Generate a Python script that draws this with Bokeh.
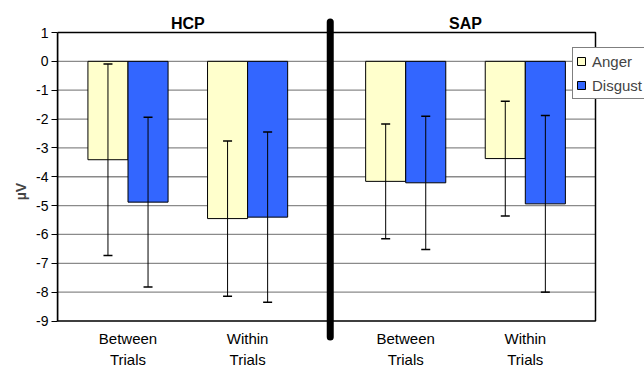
import numpy as np
from bokeh.plotting import figure
from bokeh.models import (ColumnDataSource, FixedTicker, Whisker, TeeHead, Legend, LegendItem, Range1d)
from bokeh.core.properties import value
from bokeh.embed import file_html
from bokeh.resources import INLINE

# ---- data ----
groups = ["HCP", "SAP"]
conditions = ["Between\nTrials", "Within\nTrials", "Between\nTrials", "Within\nTrials"]
cond_group = [0, 0, 1, 1]
anger_mean = [-3.41, -5.45, -4.16, -3.37]
anger_err = [3.32, 2.69, 1.99, 1.99]
disgust_mean = [-4.88, -5.40, -4.21, -4.94]
disgust_err = [2.94, 2.95, 2.31, 3.06]
y_ticks = list(range(-9, 2))
y_tick_labels = ["-9", "-8", "-7", "-6", "-5", "-4", "-3", "-2", "-1", "0", "1"]
series = ["Anger", "Disgust"]

# ---- layout / style parameters (pixels) ----
W, H = 644, 368
FRAME_L, FRAME_T = 57, 14          # frame spans to canvas right/bottom
BOX_R, BOX_T, BOX_B = 595, 32, 320.5
FIRST_PAIR_PX = 127.5
PX_X = 119.6
group_gap = 0.322
bar_w = 0.335
FONT = "Liberation Sans"

PX_Y = (BOX_B - BOX_T) / (y_ticks[-1] - y_ticks[0])

idx = np.arange(len(conditions))
xpos = idx + np.array(cond_group) * group_gap

x_start = xpos[0] - (FIRST_PAIR_PX - FRAME_L) / PX_X
x_end = x_start + (W - FRAME_L) / PX_X
x_box_r = x_start + (BOX_R - FRAME_L) / PX_X
y_end = y_ticks[-1] + (BOX_T - FRAME_T) / PX_Y
y_start = y_ticks[0] - (H - BOX_B) / PX_Y

p = figure(width=W, height=H, output_backend="svg", toolbar_location=None,
           x_range=Range1d(x_start, x_end), y_range=Range1d(y_start, y_end),
           x_axis_location=None,
           min_border_left=FRAME_L, min_border_right=0, min_border_top=FRAME_T, min_border_bottom=0)
p.background_fill_color = "white"
p.border_fill_color = "white"
p.outline_line_color = None
p.grid.visible = False

# gridlines inside the box
inner = [t for t in y_ticks if y_ticks[0] < t < y_ticks[-1]]
p.segment(x0=[x_start] * len(inner), x1=[x_box_r] * len(inner), y0=inner, y1=inner,
          line_color="#8a8a8a", line_width=1.3)

src_a = ColumnDataSource(dict(x=xpos - bar_w / 2, top=anger_mean,
                              upper=np.array(anger_mean) + np.array(anger_err),
                              lower=np.array(anger_mean) - np.array(anger_err)))
src_d = ColumnDataSource(dict(x=xpos + bar_w / 2, top=disgust_mean,
                              upper=np.array(disgust_mean) + np.array(disgust_err),
                              lower=np.array(disgust_mean) - np.array(disgust_err)))

ra = p.vbar(x="x", top="top", bottom=0, width=bar_w, source=src_a,
            fill_color="#FFFFCC", line_color="black", line_width=1)
rd = p.vbar(x="x", top="top", bottom=0, width=bar_w, source=src_d,
            fill_color="#3366FF", line_color="black", line_width=1)

for s in (src_a, src_d):
    p.add_layout(Whisker(base="x", upper="upper", lower="lower", source=s, level="overlay",
                         line_color="black", line_width=1,
                         upper_head=TeeHead(size=9, line_color="black", line_width=1.5),
                         lower_head=TeeHead(size=9, line_color="black", line_width=1.5)))

# plot box (top, right, bottom edges)
p.quad(left=[x_start], right=[x_box_r], top=[y_ticks[-1]], bottom=[y_ticks[0]],
       fill_color=None, line_color="black", line_width=1.5)

# y axis
p.yaxis.ticker = FixedTicker(ticks=y_ticks)
p.yaxis.major_label_overrides = {t: s for t, s in zip(y_ticks, y_tick_labels)}
p.yaxis.bounds = (y_ticks[0], y_ticks[-1])
p.yaxis.axis_label = "µV"
p.yaxis.axis_label_text_font = FONT
p.yaxis.axis_label_text_font_style = "bold"
p.yaxis.axis_label_text_font_size = "14px"
p.yaxis.axis_label_standoff = 4
p.yaxis.major_label_text_font = FONT
p.yaxis.major_label_text_font_size = "14px"
p.yaxis.major_label_text_color = "black"
p.yaxis.major_label_standoff = 3
p.yaxis.major_tick_out = 6
p.yaxis.major_tick_in = 0
p.yaxis.minor_tick_out = 0
p.yaxis.minor_tick_in = 0
p.yaxis.axis_line_width = 1.5
p.yaxis.major_tick_line_width = 1.2

# category labels below the box
p.text(x=list(xpos), y=[y_ticks[0]] * len(xpos), text=conditions,
       text_font=value(FONT), text_font_size="15px", text_color="black",
       text_align="center", text_baseline="top", text_line_height=1.25, y_offset=9)

# group titles above the box
gcent = [float(np.mean(xpos[np.array(cond_group) == g])) for g in range(len(groups))]
p.text(x=gcent, y=[y_ticks[-1]] * len(groups), text=groups,
       text_font=value(FONT), text_font_style="bold", text_font_size="16px",
       text_color="black", text_align="center", text_baseline="alphabetic", y_offset=-9)

# thick separator between groups
sep = float((xpos[1] + xpos[2]) / 2) + 0.03
SEP_TOP_PX, SEP_BOT_PX = 21.5, 336.5
p.segment(x0=[sep], x1=[sep],
          y0=[y_ticks[-1] + (BOX_T - SEP_TOP_PX) / PX_Y],
          y1=[y_ticks[0] - (SEP_BOT_PX - BOX_B) / PX_Y],
          line_width=7, line_color="black", line_cap="round")

# legend
legend = Legend(items=[LegendItem(label=series[0], renderers=[ra]),
                       LegendItem(label=series[1], renderers=[rd])],
                location=(572 - FRAME_L, H - 99), orientation="vertical",
                label_text_font=FONT, label_text_font_size="15px",
                glyph_width=10, glyph_height=10, label_height=20, label_standoff=6,
                spacing=4, padding=3, margin=0,
                border_line_color="black", border_line_width=1,
                background_fill_color="white", background_fill_alpha=1)
p.add_layout(legend)

open("out.html", "w").write(file_html(p, INLINE))
